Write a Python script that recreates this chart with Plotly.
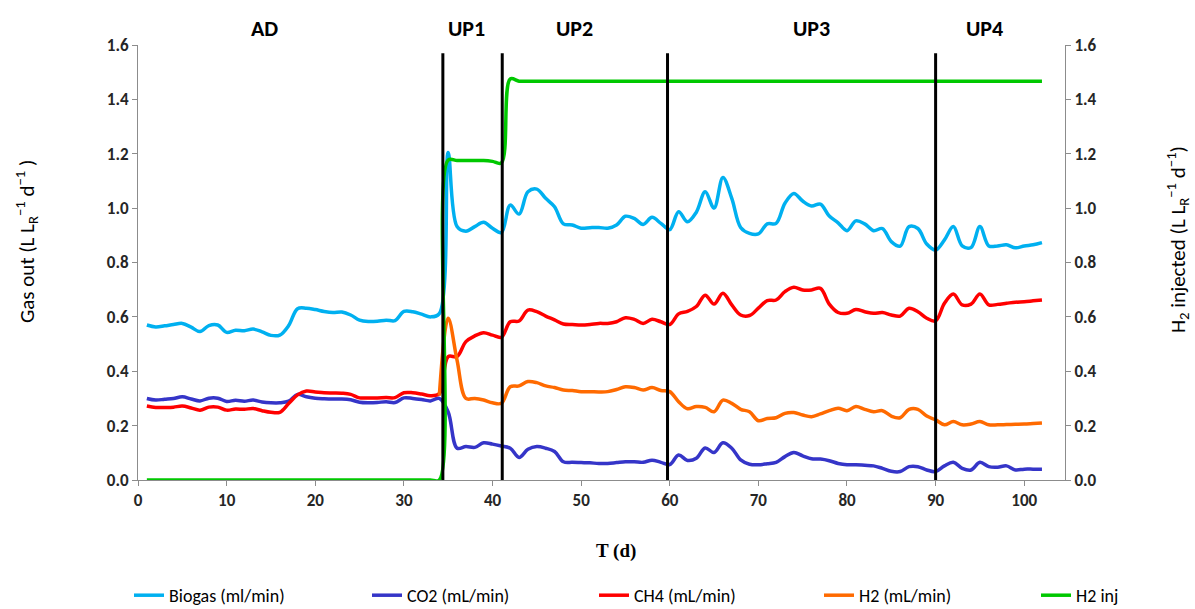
import plotly.graph_objects as go

days = list(range(1, 103))
h2_days = list(range(34, 103))

biogas = [0.570, 0.563, 0.567, 0.572, 0.576, 0.562, 0.546, 0.568, 0.570, 0.543,
          0.551, 0.549, 0.555, 0.545, 0.532, 0.533, 0.568, 0.630, 0.632, 0.627,
          0.620, 0.616, 0.618, 0.607, 0.588, 0.583, 0.584, 0.588, 0.586, 0.620,
          0.619, 0.610, 0.600, 0.612, 1.205, 0.932, 0.915, 0.932, 0.948, 0.926,
          0.910, 1.011, 0.978, 1.060, 1.070, 1.036, 1.005, 0.942, 0.938, 0.926,
          0.928, 0.929, 0.926, 0.938, 0.970, 0.962, 0.940, 0.966, 0.944, 0.921,
          0.987, 0.950, 0.985, 1.060, 1.000, 1.113, 1.036, 0.929, 0.907, 0.905,
          0.942, 0.944, 1.018, 1.054, 1.026, 1.008, 1.015, 0.971, 0.946, 0.917,
          0.953, 0.942, 0.917, 0.925, 0.877, 0.860, 0.932, 0.925, 0.868, 0.846,
          0.883, 0.932, 0.861, 0.855, 0.932, 0.861, 0.861, 0.865, 0.854, 0.861,
          0.865, 0.873]

co2 = [0.300, 0.294, 0.297, 0.300, 0.306, 0.298, 0.291, 0.301, 0.301, 0.289,
       0.293, 0.290, 0.294, 0.287, 0.284, 0.284, 0.290, 0.315, 0.306, 0.301,
       0.299, 0.298, 0.298, 0.295, 0.286, 0.284, 0.285, 0.288, 0.285, 0.302,
       0.300, 0.296, 0.291, 0.300, 0.250, 0.117, 0.123, 0.120, 0.137, 0.132,
       0.125, 0.117, 0.083, 0.113, 0.123, 0.117, 0.105, 0.067, 0.065, 0.064,
       0.063, 0.061, 0.061, 0.064, 0.067, 0.067, 0.065, 0.073, 0.065, 0.057,
       0.092, 0.072, 0.080, 0.118, 0.101, 0.137, 0.117, 0.074, 0.058, 0.056,
       0.060, 0.065, 0.086, 0.101, 0.089, 0.078, 0.077, 0.071, 0.061, 0.056,
       0.056, 0.054, 0.052, 0.043, 0.032, 0.031, 0.049, 0.049, 0.037, 0.031,
       0.052, 0.065, 0.043, 0.037, 0.065, 0.049, 0.047, 0.052, 0.037, 0.040,
       0.040, 0.040]

ch4 = [0.272, 0.267, 0.267, 0.268, 0.272, 0.265, 0.257, 0.268, 0.268, 0.257,
       0.261, 0.260, 0.263, 0.255, 0.249, 0.249, 0.281, 0.313, 0.327, 0.324,
       0.321, 0.320, 0.319, 0.315, 0.302, 0.302, 0.302, 0.303, 0.303, 0.321,
       0.321, 0.316, 0.310, 0.318, 0.454, 0.454, 0.509, 0.530, 0.542, 0.533,
       0.525, 0.582, 0.585, 0.625, 0.619, 0.603, 0.589, 0.574, 0.572, 0.570,
       0.572, 0.576, 0.576, 0.582, 0.597, 0.591, 0.576, 0.591, 0.582, 0.572,
       0.611, 0.620, 0.638, 0.680, 0.647, 0.687, 0.644, 0.607, 0.605, 0.632,
       0.660, 0.662, 0.693, 0.709, 0.699, 0.699, 0.705, 0.647, 0.616, 0.613,
       0.627, 0.619, 0.613, 0.616, 0.607, 0.603, 0.632, 0.619, 0.595, 0.585,
       0.650, 0.684, 0.644, 0.647, 0.684, 0.644, 0.646, 0.650, 0.654, 0.656,
       0.659, 0.662]

h2 = [0.310, 0.595, 0.441, 0.300, 0.300, 0.294, 0.284, 0.282, 0.343, 0.346,
      0.362, 0.358, 0.346, 0.340, 0.331, 0.329, 0.325, 0.325, 0.324, 0.325,
      0.333, 0.343, 0.340, 0.331, 0.340, 0.329, 0.325, 0.288, 0.262, 0.270,
      0.267, 0.251, 0.294, 0.282, 0.260, 0.251, 0.218, 0.226, 0.229, 0.245,
      0.248, 0.239, 0.233, 0.243, 0.255, 0.264, 0.255, 0.270, 0.260, 0.251,
      0.255, 0.235, 0.229, 0.260, 0.260, 0.235, 0.221, 0.203, 0.215, 0.203,
      0.206, 0.215, 0.203, 0.203, 0.204, 0.205, 0.206, 0.208, 0.210]

h2_inj = [0.0] * 34 + [1.177, 1.175, 1.175, 1.175, 1.175, 1.172, 1.166, 1.475] + [1.467] * 60

series_names = ["Biogas (ml/min)", "CO2 (mL/min)", "CH4 (mL/min)", "H2 (mL/min)", "H2 inj"]
phase_names = ["AD", "UP1", "UP2", "UP3", "UP4"]
phase_label_x = [14.3, 37.1, 49.2, 76.0, 95.5]
phase_bounds = [34.4, 41.1, 59.75, 90.0]
bound_top = 1.57

y_ticks = [0.0, 0.2, 0.4, 0.6, 0.8, 1.0, 1.2, 1.4, 1.6]
x_ticks = list(range(0, 101, 10))

FONT = "Carlito, Lato, 'Open Sans', sans-serif"
W = 3.5

# page layout (pixels)
L, R, T, B = 138, 1065, 45, 480
pw, ph = R - L, B - T


def px_x(p):
    return (p - L) / pw


def px_y(p):
    return (B - p) / ph


colors = ["#00B0F0", "#3535C8", "#FF0000", "#FF6A00", "#00C800"]
xs = [days, days, days, h2_days, days]
ys = [biogas, co2, ch4, h2, h2_inj]
legend_ids = ["legend", "legend2", "legend3", "legend4", "legend5"]
legend_sym_px = [135, 373, 600, 825, 1042]

fig = go.Figure()
for i in range(5):
    fig.add_trace(go.Scatter(
        x=xs[i], y=ys[i], name=series_names[i], mode="lines",
        yaxis="y2" if i == 4 else "y", legend=legend_ids[i],
        line=dict(color=colors[i], width=W, shape="spline")))

for b in phase_bounds:
    fig.add_shape(type="line", xref="x", yref="y", x0=b, x1=b, y0=0, y1=bound_top,
                  line=dict(color="black", width=3))

for name, px in zip(phase_names, phase_label_x):
    fig.add_annotation(x=px, xref="x", y=px_y(28), yref="paper",
                       xanchor="center", yanchor="middle",
                       text=f"<b>{name}</b>", showarrow=False,
                       font=dict(family=FONT, size=22, color="black"))

fig.add_annotation(x=px_x(26), y=px_y(242), xref="paper", yref="paper",
                   xanchor="center", yanchor="middle",
                   text="Gas out (L L<sub>R</sub><sup>\u22121</sup> d<sup>\u22121</sup> )",
                   textangle=-90, showarrow=False,
                   font=dict(family=FONT, size=21, color="black"))
fig.add_annotation(x=px_x(1177), y=px_y(240), xref="paper", yref="paper",
                   xanchor="center", yanchor="middle",
                   text="H<sub>2</sub> injected (L L<sub>R</sub><sup>\u22121</sup> d<sup>\u22121</sup>)",
                   textangle=-90, showarrow=False,
                   font=dict(family=FONT, size=21, color="black"))
fig.add_annotation(x=px_x(616), y=px_y(551), xref="paper", yref="paper",
                   xanchor="center", yanchor="middle",
                   text="<b>T (d)</b>", showarrow=False,
                   font=dict(family="'Liberation Serif', 'Times New Roman', serif", size=19, color="black"))

tickfont = dict(family=FONT, size=17, color="#262626")
axis_common = dict(showgrid=False, zeroline=False, showline=True, linecolor="#8C8C8C",
                   linewidth=1, ticks="outside", ticklen=5, tickcolor="#8C8C8C",
                   tickfont=tickfont)
y_text = [f"<b>{v:.1f}</b>" for v in y_ticks]
x_text = [f"<b>{v}</b>" for v in x_ticks]

legends = {}
for i, lid in enumerate(legend_ids):
    legends[lid] = dict(orientation="h", x=px_x(legend_sym_px[i] - 6), xanchor="left",
                        y=px_y(577), yanchor="top",
                        font=dict(family=FONT, size=18, color="black"),
                        bgcolor="rgba(0,0,0,0)")

fig.update_layout(
    width=1195, height=609,
    margin=dict(l=L, r=1195 - R, t=T, b=609 - B, autoexpand=False),
    paper_bgcolor="white", plot_bgcolor="white",
    showlegend=True,
    xaxis=dict(range=[0, 104.6], tickvals=x_ticks, ticktext=x_text, **axis_common),
    yaxis=dict(range=[0, 1.6], tickvals=y_ticks, ticktext=y_text, **axis_common),
    yaxis2=dict(range=[0, 1.6], tickvals=y_ticks, ticktext=y_text, overlaying="y",
                side="right", **axis_common),
    **legends,
)

fig.write_html("out.html")
